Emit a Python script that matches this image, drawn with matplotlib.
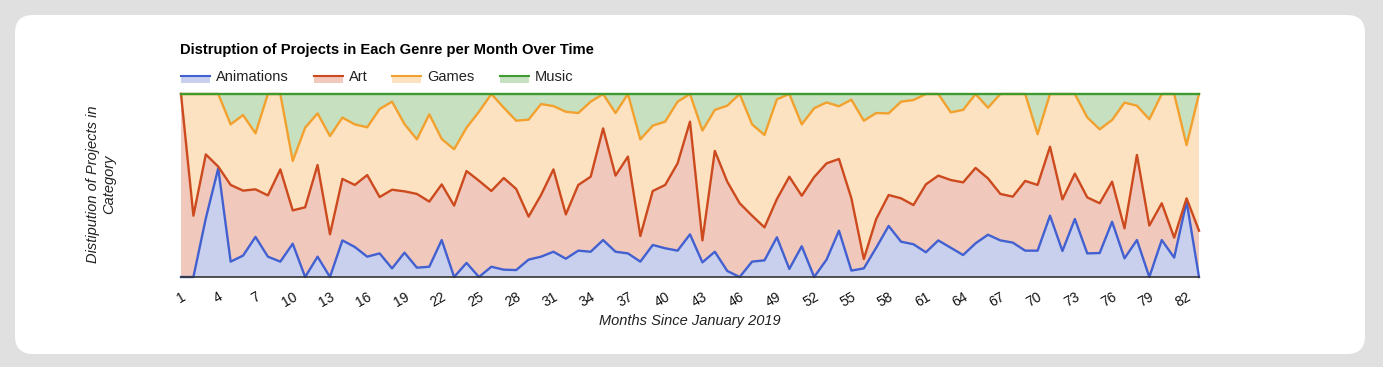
import numpy as np
import matplotlib.pyplot as plt
from matplotlib.patches import FancyBboxPatch, Rectangle
from matplotlib.lines import Line2D
from matplotlib.transforms import IdentityTransform

plt.rcParams['font.family'] = ['Liberation Sans', 'DejaVu Sans']

# share of projects per genre (percent), months 1..83
months = np.arange(1, 84)
animations = [0, 0, 32.1, 59.4, 8.4, 11.7, 21.9, 11.1, 8.4, 18.2,
              0, 11.1, 0, 20.0, 16.4, 11.1, 12.9, 4.7, 13.3, 5.1,
              5.6, 20.2, 0, 7.7, 0, 5.6, 4.0, 3.8, 9.5, 11.1,
              13.8, 10.0, 14.4, 13.8, 20.2, 13.8, 12.9, 8.4, 17.5, 15.7,
              14.4, 23.3, 8.0, 13.8, 3.3, 0, 8.4, 9.1, 21.7, 4.4,
              16.8, 0, 9.5, 25.3, 3.5, 4.7, 16.0, 27.9, 19.3, 17.9,
              13.5, 20.0, 16.0, 12.0, 18.4, 23.1, 20.0, 18.8, 14.4, 14.4,
              33.5, 14.2, 31.7, 12.9, 13.1, 30.2, 10.2, 20.2, 0, 20.2,
              10.6, 41.2, 0]
art = [100, 33.5, 34.9, 0.9, 41.9, 35.5, 26.0, 33.5, 50.4, 18.2,
       38.1, 50.1, 23.3, 33.6, 33.9, 44.6, 30.8, 43.0, 33.5, 40.3,
       35.6, 30.4, 39.0, 50.2, 52.6, 41.4, 50.1, 44.3, 23.5, 33.7,
       45.0, 24.2, 35.9, 41.0, 61.0, 41.6, 52.9, 14.0, 29.5, 34.6,
       47.7, 61.6, 12.0, 55.1, 48.8, 40.3, 25.1, 18.0, 20.9, 50.4,
       27.6, 54.6, 52.6, 39.2, 39.5, 5.1, 15.7, 16.9, 23.7, 21.4,
       37.1, 35.4, 37.0, 39.7, 41.2, 30.8, 25.4, 25.1, 38.1, 35.9,
       37.7, 28.2, 24.8, 30.6, 27.2, 21.9, 16.4, 46.5, 28.1, 20.1,
       10.9, 1.8, 25.3]
games = [0, 66.5, 33.0, 39.7, 33.1, 41.3, 30.6, 55.4, 41.2, 27.0,
         43.5, 28.2, 53.7, 33.5, 33.1, 26.1, 48.1, 48.1, 36.8, 29.8,
         47.7, 24.8, 30.8, 23.7, 37.7, 53.0, 38.4, 37.3, 53.0, 49.7,
         34.6, 56.1, 39.3, 41.0, 18.8, 34.2, 34.2, 52.8, 35.7, 34.6,
         33.7, 15.1, 60.0, 22.4, 41.5, 59.7, 49.9, 50.5, 54.5, 45.2,
         39.0, 37.6, 33.3, 28.8, 53.9, 75.6, 57.9, 44.6, 52.8, 57.4,
         49.4, 44.6, 37.0, 39.6, 40.4, 38.6, 54.6, 56.1, 47.5, 27.7,
         28.8, 57.6, 43.5, 43.7, 40.4, 33.7, 68.7, 26.9, 58.1, 59.7,
         78.5, 29.1, 74.7]
music = [0, 0, 0, 0, 16.6, 11.5, 21.5, 0, 0, 36.6,
         18.4, 10.6, 23.0, 12.9, 16.6, 18.2, 8.2, 4.2, 16.4, 24.8,
         11.1, 24.6, 30.2, 18.4, 9.7, 0, 7.5, 14.6, 14.0, 5.5,
         6.6, 9.7, 10.4, 4.2, 0, 10.4, 0, 24.8, 17.3, 15.1,
         4.2, 0, 20.0, 8.7, 6.4, 0, 16.6, 22.4, 2.9, 0,
         16.6, 7.8, 4.6, 6.7, 3.1, 14.6, 10.4, 10.6, 4.2, 3.3,
         0, 0, 10.0, 8.7, 0, 7.5, 0, 0, 0, 22.0,
         0, 0, 0, 12.8, 19.3, 14.2, 4.7, 6.4, 13.8, 0,
         0, 27.9, 0]

genres = ['Animations', 'Art', 'Games', 'Music']
line_colors = ['#4260d0', '#cc4a1e', '#f2a12e', '#3f9b30']
fill_colors = ['#c8d0ee', '#f0c8bc', '#fce2c0', '#c6e0c0']

W, H = 1383, 367
fig = plt.figure(figsize=(W / 100, H / 100), dpi=100, facecolor='#e0e0e0')

# white card behind the chart
card = FancyBboxPatch((15, 13), 1350, 339, boxstyle='round,pad=0,rounding_size=18',
                      facecolor='white', edgecolor='none', transform=IdentityTransform(),
                      zorder=-10)
fig.add_artist(card)

ax = fig.add_axes([181 / W, 1 - 277 / H, 1018 / W, 183 / H])
ax.set_facecolor('none')

data = np.array([animations, art, games, music], dtype=float)
shares = data / data.sum(axis=0) * 100
ax.stackplot(months, shares, colors=fill_colors, linewidth=0)
tops = np.cumsum(shares, axis=0)
for top, c in zip(tops, line_colors):
    ax.plot(months, top, color=c, lw=1.7, clip_on=False)

ax.set_xlim(1, 83)
ax.set_ylim(0, 100)
ax.set_yticks([])
ax.set_xticks(months[::3])
ax.set_xticklabels([str(m) for m in months[::3]], rotation=30, ha='right',
                   rotation_mode='anchor', fontsize=10, color='#111111')
ax.tick_params(axis='x', length=0, pad=9)
for s in ['top', 'left', 'right']:
    ax.spines[s].set_visible(False)
ax.spines['bottom'].set_color('#333333')
ax.spines['bottom'].set_linewidth(1.2)
ax.spines['bottom'].set_zorder(5)

# title, axis titles
fig.text(180 / W, 1 - 50 / H, 'Distruption of Projects in Each Genre per Month Over Time',
         fontsize=10.6, fontweight='bold', va='center', ha='left', color='black')
fig.text(690 / W, 1 - 321 / H, 'Months Since January 2019', fontsize=10.5, style='italic',
         ha='center', va='center', color='#222222')
fig.text(101 / W, 1 - 184 / H, 'Distipution of Projects in\nCategory', fontsize=10.5,
         style='italic', rotation=90, ha='center', va='center', multialignment='center',
         color='#222222')

# legend
leg_x = [181, 314, 392, 500]
for x0, name, lc, fc in zip(leg_x, genres, line_colors, fill_colors):
    fig.add_artist(Rectangle((x0, H - 83), 29, 7, facecolor=fc, edgecolor='none',
                             transform=IdentityTransform()))
    fig.add_artist(Line2D([x0, x0 + 29], [H - 75.5, H - 75.5], color=lc, lw=1.5,
                          transform=IdentityTransform()))
    fig.text((x0 + 35) / W, 1 - 77 / H, name, fontsize=10.5, va='center', ha='left',
             color='#222222')

fig.savefig('out.png', dpi=100, facecolor=fig.get_facecolor())
